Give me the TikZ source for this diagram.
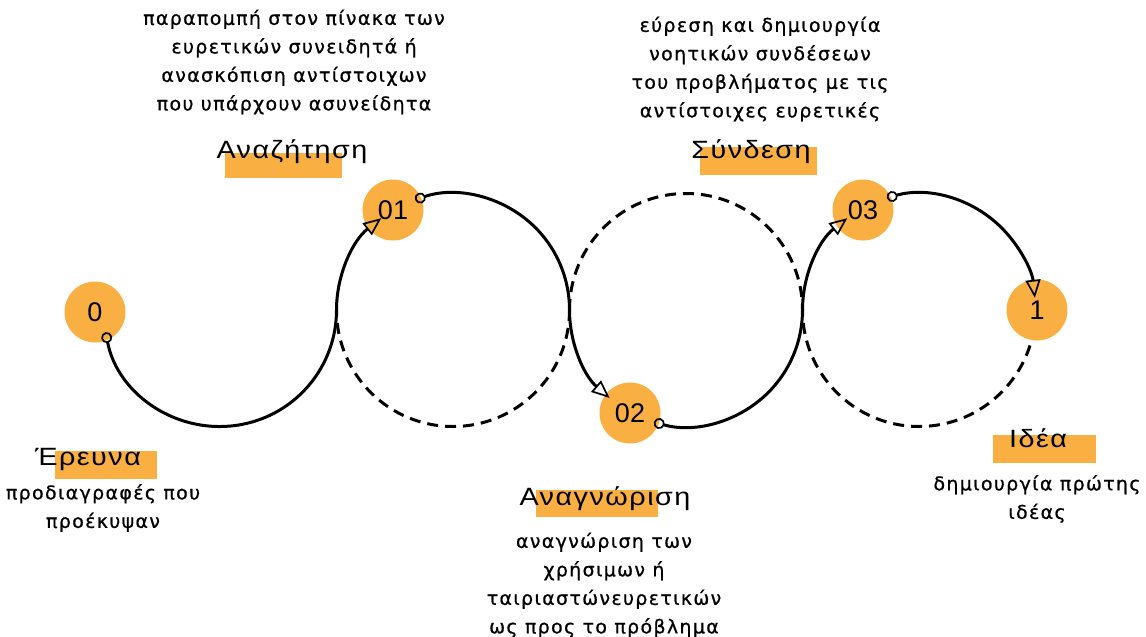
\documentclass[tikz,border=0pt]{standalone}
\usepackage{fontspec}
\usetikzlibrary{arrows.meta}
\newfontfamily\titlefont[LetterSpace=6, FakeStretch=1.15]{Liberation Sans}
\newfontfamily\descfont[LetterSpace=7, FakeBold=0.8]{DejaVu Sans}
\newfontfamily\numfont{Liberation Sans}
\definecolor{accent}{RGB}{249,175,66}
\tikzset{
  conn/.style={line width=3pt, draw=black,
    {Circle[open, length=11pt, line width=1.7pt]}-{Triangle[open, length=18pt, width=15pt, line width=1.7pt]}},
  back/.style={line width=3pt, draw=black, dash pattern=on 11pt off 7pt},
  stage/.style={circle, fill=accent, minimum size=61pt, inner sep=0pt,
    font=\numfont\fontsize{27}{27}\selectfont},
  band/.style={fill=accent},
  title/.style={anchor=base, inner sep=0pt, font=\titlefont\fontsize{25}{25}\selectfont},
  desc/.style={align=center, inner sep=0pt, font=\descfont\fontsize{19}{28.5}\selectfont},
}
\begin{document}
\begin{tikzpicture}[x=1pt, y=-1pt]
  \useasboundingbox (0,0) rectangle (1146,637);
  \def\R{116.5}
  % centres of the four loops
  \coordinate (cL) at (220,310);
  \coordinate (cA) at (453,310);
  \coordinate (cB) at (686,310);
  \coordinate (cC) at (919,310);

  % dashed return halves
  \draw[back] ([shift={(0:\R)}]cA) arc[start angle=0, end angle=180, radius=\R];
  \draw[back] ([shift={(180:\R)}]cB) arc[start angle=180, end angle=360, radius=\R];
  \draw[back] ([shift={(0:\R)}]cC) arc[start angle=0, end angle=180, radius=\R];

  % orange stage markers
  \node[stage] (s0) at (95,312) {0};
  \node[stage] (s1) at (393,210) {01};
  \node[stage] (s2) at (630,413) {02};
  \node[stage] (s3) at (863,210) {03};
  \node[stage] (s4) at (1037,310) {1};

  % start points of the connectors on their loops
  \coordinate (m0) at ([shift={(169:\R)}]cL);
  \coordinate (m1) at ([shift={(251:\R)}]cA);
  \coordinate (m2) at ([shift={(106:\R)}]cB);
  \coordinate (m3) at ([shift={(254:\R)}]cC);

  % solid connectors between the stages
  \draw[conn] (m0) arc[start angle=169, end angle=0, radius=\R]
                   arc[start angle=180, end angle=232, radius=\R];
  \draw[conn] (m1) arc[start angle=251, end angle=360, radius=\R]
                   arc[start angle=180, end angle=131, radius=\R];
  \draw[conn] (m2) arc[start angle=106, end angle=0, radius=\R]
                   arc[start angle=180, end angle=232, radius=\R];
  \draw[conn] (m3) arc[start angle=254, end angle=354, radius=\R];

  % highlight bands behind the titles
  \fill[band] (225,153) rectangle (342,178);
  \fill[band] (700,147) rectangle (817,175);
  \fill[band] (55,451) rectangle (157,479);
  \fill[band] (536,490) rectangle (658,517);
  \fill[band] (993,435) rectangle (1096,463);

  % titles
  \node[title] (t1) at (292,158) {Αναζήτηση};
  \node[title] (t2) at (751,158) {Σύνδεση};
  \node[title] (t0) at (88,465) {Έρευνα};
  \node[title] (t3) at (605,505) {Αναγνώριση};
  \node[title] (t4) at (1038,447) {Ιδέα};

  % descriptions
  \node[desc] (d1) at (294,62) {παραπομπή στον πίνακα των\\ευρετικών συνειδητά ή\\ανασκόπιση αντίστοιχων\\που υπάρχουν ασυνείδητα};
  \node[desc] (d2) at (760,69) {εύρεση και δημιουργία\\νοητικών συνδέσεων\\του προβλήματος με τις\\αντίστοιχες ευρετικές};
  \node[desc] (d0) at (103,508) {προδιαγραφές που\\προέκυψαν};
  \node[desc] (d3) at (604,585) {αναγνώριση των\\χρήσιμων ή\\ταιριαστώνευρετικών\\ως προς το πρόβλημα};
  \node[desc] (d4) at (1037,499) {δημιουργία πρώτης\\ιδέας};
\end{tikzpicture}
\end{document}
